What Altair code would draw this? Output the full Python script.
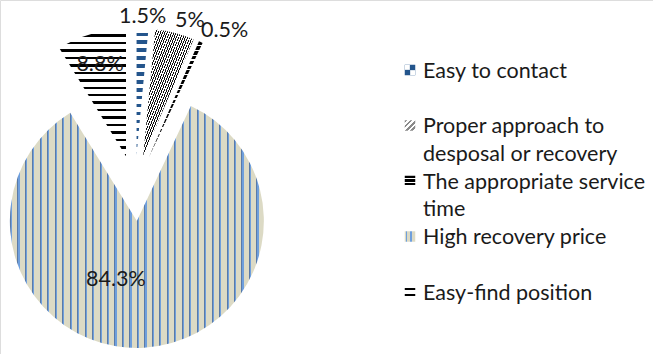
import altair as alt
import pandas as pd

categories = ["Easy to contact", "Proper approach to desposal or recovery",
              "The appropriate service time", "High recovery price", "Easy-find position"]
percents = [1.5, 5.0, 0.5, 84.3, 8.8]
pct_labels = ["1.5%", "5%", "0.5%", "84.3%", "8.8%"]
legend_text = ["Easy to contact", "Proper approach to\ndesposal or recovery",
               "The appropriate service\ntime", "High recovery price", "Easy-find position"]

df = pd.DataFrame({"cat": categories, "pct": percents, "lbl": pct_labels,
                   "legend": legend_text, "order": list(range(len(categories)))})

CX, CY, R, EXPLODE = 135, 188, 127, 33
FONT = "Lato"
FS = 21.5
TXT = "#1a1a1a"

BLUE_D = "#24558c"
BEIGE = "#dcdac5"
LBLUE = "#6f9fdc"
GBLUE = "#5a7aa8"


def pattern(segs, n, x1=0, y1=0, x2=1, y2=0):
    total = sum(w for _, w in segs)
    stops = []
    for k in range(n):
        pos = k / n
        for color, w in segs:
            nxt = pos + (w / total) / n
            stops.append({"offset": round(pos, 5), "color": color})
            stops.append({"offset": round(min(nxt, 1.0), 5), "color": color})
            pos = nxt
    return {"gradient": "linear", "x1": x1, "y1": y1, "x2": x2, "y2": y2, "stops": stops}


slice_fills = [
    pattern([("white", 4.5), (BLUE_D, 3.5)], 16, 0, 0, 0, 1),
    pattern([("#111111", 1.2), ("white", 1.6)], 45, 0, 0, 1, 1),
    pattern([("#000000", 4), ("white", 1.5)], 24, 0, 0, 0, 1),
    pattern([(GBLUE, 1), (LBLUE, 1.2), (BEIGE, 5.3)], 34, 0, 0, 1, 0),
    pattern([("white", 5), ("#000000", 2.5)], 17, 0, 0, 0, 1),
]
legend_fills = [
    BLUE_D,
    pattern([("#8a8a8a", 1), ("white", 1)], 4, 0, 0, 1, 1),
    pattern([("#000000", 2.5), ("white", 1)], 3, 0, 0, 0, 1),
    pattern([(BEIGE, 0.6), (LBLUE, 1), (BEIGE, 2), (LBLUE, 1), (BEIGE, 2.4)], 1, 0, 0, 1, 0),
    pattern([("white", 1), ("#000000", 2.5), ("white", 3), ("#000000", 2.5), ("white", 1)], 1, 0, 0, 0, 1),
]

base = (
    alt.Chart(df)
    .transform_joinaggregate(total="sum(pct)")
    .transform_window(cum="sum(pct)", sort=[alt.SortField("order")], frame=[None, 0])
    .transform_calculate(t0="2*PI*(datum.cum-datum.pct)/datum.total",
                         t1="2*PI*datum.cum/datum.total")
    .transform_calculate(mid="(datum.t0+datum.t1)/2")
    .transform_calculate(ax=f"{CX}+{EXPLODE}*sin(datum.mid)",
                         ay=f"{CY}-{EXPLODE}*cos(datum.mid)")
    .transform_calculate(
        la="datum.pct > 50 ? datum.mid + 0.4 : datum.mid",
        lr=f"datum.pct > 50 ? {R}*0.49 : (datum.pct > 6 ? {R}*0.75 : {R}*1.005)")
    .transform_calculate(lx="datum.ax + datum.lr*sin(datum.la)",
                         ly="datum.ay - datum.lr*cos(datum.la)")
)

layers = []
for i, cat in enumerate(categories):
    layers.append(
        base.transform_filter(alt.datum.cat == cat)
        .mark_arc(outerRadius=R, fill=slice_fills[i])
        .encode(theta=alt.Theta("t0:Q", scale=None), theta2="t1:Q",
                x=alt.X("ax:Q", scale=None), y=alt.Y("ay:Q", scale=None))
    )

tenc = dict(x=alt.X("lx:Q", scale=None), y=alt.Y("ly:Q", scale=None), text="lbl:N")
layers.append(base.transform_filter("datum.pct <= 6 && sin(datum.mid) < 0.2")
              .mark_text(font=FONT, fontSize=FS, color=TXT, align="center", baseline="bottom")
              .encode(**tenc))
layers.append(base.transform_filter("datum.pct <= 6 && sin(datum.mid) >= 0.2")
              .mark_text(font=FONT, fontSize=FS, color=TXT, align="left", baseline="bottom")
              .encode(**tenc))
layers.append(base.transform_filter("datum.pct > 6")
              .mark_text(font=FONT, fontSize=FS, color=TXT, align="center", baseline="middle")
              .encode(**tenc))

# legend
LX, LY0, LSTEP = 410, 70, 55.5
leg = alt.Chart(df).transform_calculate(gy=f"{LY0} + datum.order*{LSTEP}",
                                        ty=f"{LY0} + datum.order*{LSTEP} + 7.8")
for i, cat in enumerate(categories):
    layers.append(
        leg.transform_filter(alt.datum.cat == cat)
        .mark_square(size=110, fill=legend_fills[i], opacity=1)
        .encode(x=alt.value(LX), y=alt.Y("gy:Q", scale=None))
    )
# checker cells of the first legend symbol
layers.append(
    leg.transform_filter(alt.datum.order == 0)
    .transform_calculate(wy="datum.gy - 2.6")
    .mark_square(size=24, fill="white", opacity=1)
    .encode(x=alt.value(LX - 2.6), y=alt.Y("wy:Q", scale=None))
)
layers.append(
    leg.transform_filter(alt.datum.order == 0)
    .transform_calculate(wy="datum.gy + 2.6")
    .mark_square(size=24, fill="white", opacity=1)
    .encode(x=alt.value(LX + 2.6), y=alt.Y("wy:Q", scale=None))
)
layers.append(
    leg.mark_text(font=FONT, fontSize=FS, color=TXT, align="left", baseline="alphabetic",
                  lineBreak="\n", lineHeight=27.5)
    .encode(x=alt.value(LX + 13), y=alt.Y("ty:Q", scale=None), text="legend:N")
)

chart = (
    alt.layer(*layers)
    .properties(width=653, height=354, padding=0, autosize=alt.AutoSizeParams(type="none"))
    .configure_view(stroke=None)
    .configure(background="white")
)

chart.save("out.html", embed_options={"renderer": "svg", "actions": False})
